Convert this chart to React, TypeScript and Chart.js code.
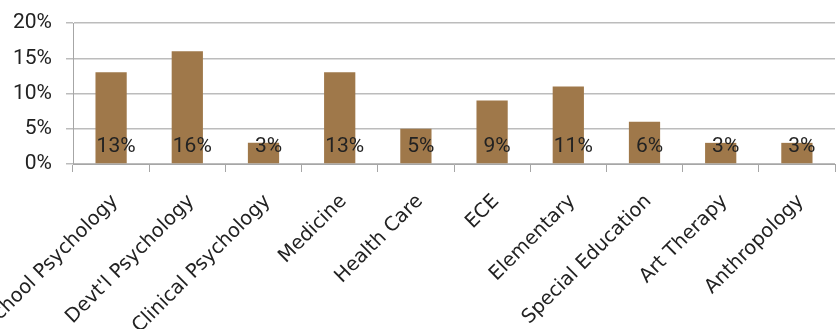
import React, { useEffect, useRef } from "react";
import { Chart, registerables } from "chart.js";

Chart.register(...registerables);

const categories = [
  "School Psychology",
  "Devt'l Psychology",
  "Clinical Psychology",
  "Medicine",
  "Health Care",
  "ECE",
  "Elementary",
  "Special Education",
  "Art Therapy",
  "Anthropology",
];
const shares = [13, 16, 3, 13, 5, 9, 11, 6, 3, 3];
const yTicks = [0, 5, 10, 15, 20];

const BAR_COLOR = "#9F784A";
const GRID_COLOR = "#bcbcbc";
const AXIS_COLOR = "#a6a6a6";
const TEXT_COLOR = "#222222";
const NUM_FONT = "Roboto, 'Liberation Sans', sans-serif";
const CAT_FONT = "'DejaVu Sans', Verdana, sans-serif";

// Percentage labels sit just above the baseline of each bar.
const valueLabels = {
  id: "valueLabels",
  afterDatasetsDraw(chart: any) {
    const { ctx } = chart;
    const meta = chart.getDatasetMeta(0);
    const yScale = chart.scales.y;
    const base = yScale.getPixelForValue(0);
    ctx.save();
    ctx.font = `21px ${NUM_FONT}`;
    ctx.fillStyle = TEXT_COLOR;
    ctx.textAlign = "center";
    ctx.textBaseline = "middle";
    meta.data.forEach((bar: any, i: number) => {
      ctx.fillText(`${shares[i]}%`, bar.x + 5, base - 17);
    });
    ctx.restore();
  },
};

export default function App() {
  const canvasRef = useRef<HTMLCanvasElement | null>(null);

  useEffect(() => {
    const canvas = canvasRef.current;
    if (!canvas) return;
    const chart = new Chart(canvas, {
      type: "bar",
      data: {
        labels: categories,
        datasets: [
          {
            data: shares,
            backgroundColor: BAR_COLOR,
            borderWidth: 0,
            barPercentage: 0.41,
            categoryPercentage: 1,
          },
        ],
      },
      options: {
        responsive: false,
        animation: false,
        layout: { padding: { top: 23, right: 3, left: 0, bottom: 0 } },
        plugins: {
          legend: { display: false },
          tooltip: { enabled: false },
        },
        scales: {
          x: {
            offset: true,
            grid: {
              offset: true,
              drawOnChartArea: false,
              drawTicks: true,
              tickLength: 8,
              color: AXIS_COLOR,
            },
            border: { display: true, color: AXIS_COLOR },
            ticks: {
              color: TEXT_COLOR,
              font: { family: CAT_FONT, size: 19.5 },
              minRotation: 45,
              maxRotation: 45,
              autoSkip: false,
              padding: 18,
              labelOffset: 4,
            },
            afterFit(scale: any) {
              scale.height = 165;
              scale.paddingLeft = 0;
              scale.paddingRight = 0;
            },
          },
          y: {
            min: 0,
            max: 20,
            afterBuildTicks(scale: any) {
              scale.ticks = yTicks.map((v) => ({ value: v }));
            },
            grid: {
              color: GRID_COLOR,
              lineWidth: 1.5,
              drawTicks: true,
              tickLength: 7,
            },
            border: { display: true, color: AXIS_COLOR },
            ticks: {
              color: TEXT_COLOR,
              font: { family: NUM_FONT, size: 21 },
              padding: 14,
              callback: (v: any) => `${v}%`,
            },
            afterFit(scale: any) {
              scale.width = 73;
              scale.paddingTop = 0;
              scale.paddingBottom = 0;
            },
          },
        },
      },
      plugins: [valueLabels],
    });
    return () => chart.destroy();
  }, []);

  return (
    <div style={{ position: "fixed", left: 0, top: 0, width: 838, height: 329, background: "#fff" }}>
      <canvas ref={canvasRef} width={838} height={329} style={{ display: "block" }} />
    </div>
  );
}
